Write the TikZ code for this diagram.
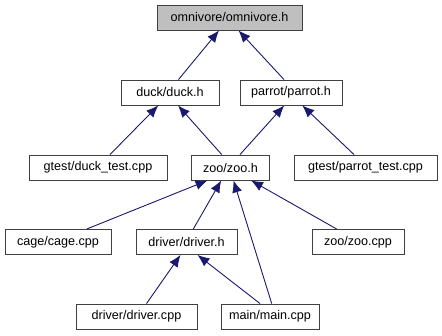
\documentclass[tikz,border=0pt]{standalone}
\usepackage{fontspec}
\setmainfont{Liberation Sans}
\usetikzlibrary{arrows.meta}
\begin{document}
\begin{tikzpicture}[x=1pt,y=-1pt,
  file/.style={draw=black!75,line width=0.9pt,fill=white,rectangle,inner sep=0pt,
    minimum height=25pt,font=\fontsize{12.6}{14}\selectfont},
  root/.style={file,fill=black!25},
  dep/.style={draw=edgeblue,line width=0.9pt,-{Latex[length=12pt,width=10pt]}}]
\definecolor{edgeblue}{HTML}{191970}
\useasboundingbox (0,0) rectangle (442,336);
% header and source files
\node[root,minimum width=145pt] (omni) at (229.5,17.5) {omnivore/omnivore.h};
\node[file,minimum width=98pt]  (duck) at (170,92.5) {duck/duck.h};
\node[file,minimum width=102pt] (parrot) at (291,92.5) {parrot/parrot.h};
\node[file,minimum width=138pt] (ducktest) at (98,167.5) {gtest/duck\_test.cpp};
\node[file,minimum width=78pt]  (zoo) at (230.5,167.5) {zoo/zoo.h};
\node[file,minimum width=143pt] (parrottest) at (365.5,167.5) {gtest/parrot\_test.cpp};
\node[file,minimum width=106pt] (cage) at (58,242) {cage/cage.cpp};
\node[file,minimum width=101pt] (driverh) at (186.5,242) {driver/driver.h};
\node[file,minimum width=92pt]  (zoocpp) at (358,242) {zoo/zoo.cpp};
\node[file,minimum width=121pt] (drivercpp) at (136.5,316.5) {driver/driver.cpp};
\node[file,minimum width=98pt]  (main) at (270,316.5) {main/main.cpp};
% include edges, arrow at the included file
\draw[dep] ([xshift=8.5pt]duck.north) -- ([xshift=-10.5pt]omni.south);
\draw[dep] ([xshift=-7pt]parrot.north) -- ([xshift=9pt]omni.south);
\draw[dep] ([xshift=12pt]ducktest.north) -- ([xshift=-11.7pt]duck.south);
\draw[dep] ([xshift=-8.8pt]zoo.north) -- ([xshift=8pt]duck.south);
\draw[dep] ([xshift=9.5pt]zoo.north) -- ([xshift=-6.8pt]parrot.south);
\draw[dep] ([xshift=-11.5pt]parrottest.north) -- ([xshift=11.3pt]parrot.south);
\draw[dep] ([xshift=28.7pt]cage.north) -- ([xshift=-23pt]zoo.south);
\draw[dep] ([xshift=6.8pt]driverh.north) -- ([xshift=-9.3pt]zoo.south);
\draw[dep] ([xshift=1.7pt]main.north) -- ([xshift=3pt]zoo.south);
\draw[dep] ([xshift=-21.3pt]zoocpp.north) -- ([xshift=20.5pt]zoo.south);
\draw[dep] ([xshift=10pt]drivercpp.north) -- ([xshift=-6pt]driverh.south);
\draw[dep] ([xshift=-10pt]main.north) -- ([xshift=11pt]driverh.south);
\end{tikzpicture}
\end{document}
